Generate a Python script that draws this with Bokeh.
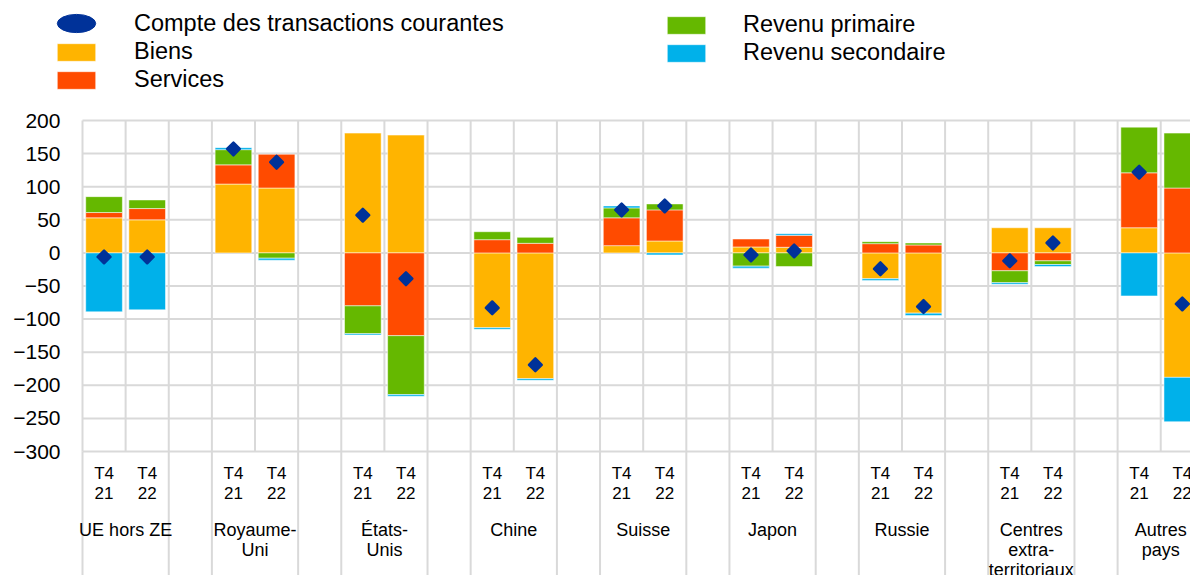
import numpy as np
from bokeh.plotting import figure
from bokeh.models import (ColumnDataSource, Range1d, FixedTicker, Legend, LegendItem, LinearAxis)
from bokeh.core.properties import value
from bokeh.embed import file_html
from bokeh.resources import INLINE

# ---------------- data ----------------
groups = ["UE hors ZE", "Royaume-\nUni", "États-\nUnis", "Chine", "Suisse",
          "Japon", "Russie", "Centres\nextra-\nterritoriaux", "Autres\npays"]
periods = ["T4\n21", "T4\n22"]

biens = [53, 50, 104, 98, 181, 178, -113, -190, 11, 18,
         9, 8.5, -39, -91, 38, 38, 38, -188]
services = [8, 17, 29, 51, -80, -125, 20, 14.5, 42, 47,
            12, 18, 14, 12, -27, -12, 83, 98]
revenu_primaire = [24, 13, 23, -8, -42, -89, 12, 9, 15, 9,
                   -20, -20.5, 3, 3, -18, -5.5, 69, 83]
revenu_secondaire = [-89, -86, 3, -3, -2, -2.5, -2.5, -2.5, 3, -3,
                     -3, 2.5, -2.5, -3.5, -2.5, -3, -65, -67]
compte_courant = [-6, -6, 157, 137, 57, -39, -83, -169, 65, 71,
                  -3, 3, -24, -81, -12, 15, 122, -77]

series_names = ["Biens", "Services", "Revenu primaire", "Revenu secondaire"]
series_values = [biens, services, revenu_primaire, revenu_secondaire]
series_colors = ["#FFB400", "#FF4B00", "#65B800", "#00B1EA"]
ca_name = "Compte des transactions courantes"
ca_color = "#003299"
y_ticks = [-300, -250, -200, -150, -100, -50, 0, 50, 100, 150, 200]

# ---------------- layout (slot positions) ----------------
n_groups = len(groups)
bar_x = []
for g in range(n_groups):
    bar_x += [3 * g + 0.5, 3 * g + 1.5]
group_x = [3 * g + 1.0 for g in range(n_groups)]

X_START, X_END = -1.901, 25.69
Y_MIN, Y_MAX = -487.3, 381.3

# stacking
pos_base = np.zeros(len(bar_x))
neg_base = np.zeros(len(bar_x))
stacks = []
for vals in series_values:
    v = np.array(vals, dtype=float)
    bottom = np.where(v >= 0, pos_base, neg_base + v)
    top = np.where(v >= 0, pos_base + v, neg_base)
    pos_base = np.where(v >= 0, pos_base + v, pos_base)
    neg_base = np.where(v < 0, neg_base + v, neg_base)
    stacks.append((bottom, top))

p = figure(width=1190, height=575, output_backend="svg", toolbar_location=None,
           x_range=Range1d(X_START, X_END), y_range=Range1d(Y_MIN, Y_MAX),
           min_border_left=0, min_border_top=0, min_border_right=0,
           min_border_bottom=0, outline_line_color=None,
           x_axis_location=None, y_axis_location=None)

grid_color = "#D9D9D9"
p.xgrid.visible = False
p.ygrid.visible = False

# horizontal grid lines
p.segment(x0=[0] * len(y_ticks), x1=[X_END] * len(y_ticks), y0=y_ticks, y1=y_ticks,
          line_color=grid_color, line_width=2)
# vertical grid lines in plot area (every slot boundary)
vb = list(range(0, 26))
p.segment(x0=vb, x1=vb, y0=[-300] * len(vb), y1=[200] * len(vb),
          line_color=grid_color, line_width=2)
# separators in the label area (group edges)
sb = []
for g in range(n_groups):
    sb += [3 * g, 3 * g + 2]
p.segment(x0=sb, x1=sb, y0=[Y_MIN] * len(sb), y1=[-300] * len(sb),
          line_color=grid_color, line_width=2)

renderers = {}
for name, (bottom, top), color in zip(series_names, stacks, series_colors):
    src = ColumnDataSource(dict(x=bar_x, bottom=bottom, top=top))
    r = p.vbar(x="x", bottom="bottom", top="top", width=0.85, source=src,
               fill_color=color, line_color="white", line_alpha=0.5, line_width=1)
    renderers[name] = r

ca_src = ColumnDataSource(dict(x=bar_x, y=compte_courant))
p.scatter(x="x", y="y", source=ca_src, marker="square", angle=np.pi / 4, size=9,
          fill_color=ca_color, line_color=ca_color, line_width=2.5, line_join="round")
# legend-only oval renderer (placed off-range)
oval = p.ellipse(x=[-50], y=[0], width=38, height=18, width_units="screen",
                 height_units="screen", fill_color=ca_color, line_color=ca_color)

# x labels
p.text(x=bar_x, y=[-348] * len(bar_x), text=periods * n_groups,
       text_align="center", text_baseline="middle", text_font=value("Liberation Sans"),
       text_font_size="17px", text_color="black", text_line_height=1.05)
p.text(x=group_x, y=[-404] * n_groups, text=groups,
       text_align="center", text_baseline="top", text_font=value("Liberation Sans"),
       text_font_size="18px", text_color="black", text_line_height=1.0)

# y axis, fixed at the left edge of the plot area
ax = LinearAxis(ticker=FixedTicker(ticks=y_ticks), fixed_location=0)
ax.axis_line_color = None
ax.major_tick_line_color = None
ax.minor_tick_line_color = None
ax.major_tick_out = 0
ax.major_tick_in = 0
ax.major_label_standoff = 22
ax.major_label_text_font = "Liberation Sans"
ax.major_label_text_font_size = "21px"
ax.major_label_text_color = "black"
p.add_layout(ax, "left")

leg_style = dict(padding=0, margin=0, border_line_color=None, background_fill_alpha=0,
                 label_text_font="Liberation Sans", label_text_font_size="23.5px",
                 label_text_color="black", spacing=1)

leg_a = Legend(items=[LegendItem(label=ca_name, renderers=[oval])],
               location=(52, 528), glyph_width=48, glyph_height=48,
               label_standoff=34, **leg_style)
leg_b = Legend(items=[LegendItem(label=n, renderers=[renderers[n]]) for n in series_names[:2]],
               location=(52, 482), glyph_width=48, glyph_height=22,
               label_standoff=34, **leg_style)
leg_c = Legend(items=[LegendItem(label=n, renderers=[renderers[n]]) for n in series_names[2:]],
               location=(662, 509), glyph_width=48, glyph_height=22,
               label_standoff=33, **leg_style)
for lg in (leg_a, leg_b, leg_c):
    p.add_layout(lg, "center")

open("out.html", "w").write(file_html(p, INLINE))
